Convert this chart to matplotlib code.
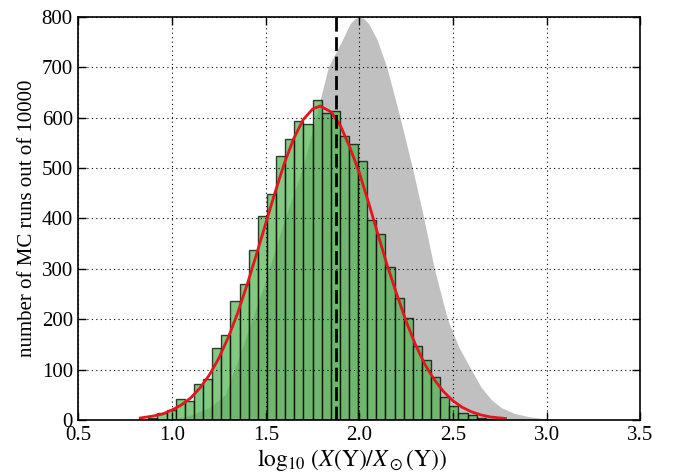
import numpy as np
import matplotlib
matplotlib.use("Agg")
import matplotlib.pyplot as plt

plt.rcParams['font.family'] = ['Liberation Serif', 'DejaVu Serif']
plt.rcParams['mathtext.fontset'] = 'stix'

# histogram of MC runs
bin_start = 0.873
bin_width = 0.0487
counts = [4, 14, 20, 42, 38, 71, 82, 142, 168, 236,
          269, 337, 405, 448, 523, 558, 593, 587, 635, 609,
          614, 563, 548, 513, 397, 370, 304, 243, 203, 146,
          119, 86, 45, 28, 13, 9, 5, 2]

# grey reference distribution outline
gray_x = [0.98, 1.02, 1.10, 1.20, 1.283, 1.39, 1.50, 1.60, 1.70, 1.79, 1.834, 1.875,
          1.906, 1.95, 1.975, 2.00, 2.025, 2.05, 2.093, 2.146, 2.217, 2.283, 2.344,
          2.40, 2.47, 2.53, 2.598, 2.65, 2.705, 2.76, 2.829, 2.90, 2.972, 3.05]
gray_y = [0, 3, 10, 25, 50, 159, 278, 397, 503, 635, 700, 730,
          752, 786, 796, 800, 796, 786, 756, 700, 600, 500, 400,
          300, 200, 145, 99, 65, 40, 24, 13, 7, 3, 0]

# red fitted curve
fit_x = [0.83, 0.90, 0.95, 1.00, 1.05, 1.10, 1.15, 1.20, 1.25, 1.30, 1.35, 1.40,
         1.45, 1.50, 1.55, 1.60, 1.65, 1.70, 1.75, 1.79, 1.85, 1.90, 1.95, 2.00,
         2.05, 2.10, 2.15, 2.20, 2.25, 2.30, 2.35, 2.40, 2.45, 2.50, 2.55, 2.60,
         2.65, 2.70, 2.78]
fit_y = [4, 8, 12, 20, 30, 44, 64, 90, 123, 164, 212, 268,
         328, 390, 452, 510, 559, 596, 617, 623, 611, 583, 540, 490,
         430, 367, 305, 249, 195, 149, 110, 80, 56, 38, 25, 16,
         10, 6, 3]

median_x = 1.875

xticks = [0.5, 1.0, 1.5, 2.0, 2.5, 3.0, 3.5]
yticks = [0, 100, 200, 300, 400, 500, 600, 700, 800]

fig = plt.figure(figsize=(6.73, 4.76), dpi=100)
ax = fig.add_axes([0.1165, 0.1176, 0.8351, 0.8471])

ax.fill_between(gray_x, gray_y, 0, color='#c0c0c0', lw=0, zorder=1)

lefts = bin_start + bin_width * np.arange(len(counts))
ax.bar(lefts, counts, width=bin_width, align='edge',
       facecolor=(0.30, 0.70, 0.30, 0.70), edgecolor=(0, 0, 0, 0.75),
       linewidth=1.0, zorder=2)

ax.plot(fit_x, fit_y, color='#e3161c', lw=2.0, zorder=4)
ax.axvline(median_x, color='black', lw=2, ls=(0, (5, 2)), zorder=5)

ax.set_xlim(0.5, 3.5)
ax.set_ylim(0, 800)
ax.set_xticks(xticks)
ax.set_yticks(yticks)
ax.set_xticklabels(['%.1f' % v for v in xticks])
ax.set_yticklabels([str(v) for v in yticks])
ax.grid(True, color='black', ls=(0, (1, 3)), lw=0.8, zorder=0)
ax.set_axisbelow(False)
for gl in ax.get_xgridlines() + ax.get_ygridlines():
    gl.set_zorder(3)
ax.tick_params(direction='in', top=True, right=True, length=6, width=1,
               labelsize=15, pad=4)
for s in ax.spines.values():
    s.set_linewidth(1.2)
    s.set_zorder(6)

ax.set_xlabel(r'$\log_{10}\,(X(\mathrm{Y})/X_\odot(\mathrm{Y}))$', fontsize=17)
ax.xaxis.set_label_coords(0.486, -0.066)
ax.set_ylabel('number of MC runs out of 10000', fontsize=15, labelpad=3)

fig.savefig('out.png', dpi=100)
